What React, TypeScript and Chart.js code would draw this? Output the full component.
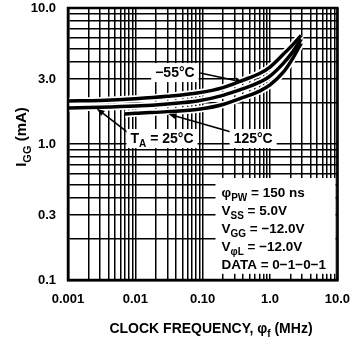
import React, { useEffect, useRef } from "react";
import { Chart, registerables } from "chart.js";

Chart.register(...registerables);

// ---- data ----
const freqM55 = [0.001, 0.003, 0.01, 0.03, 0.087, 0.2, 0.4, 0.7, 1.0, 1.6, 2.2, 2.9];
const iggM55 = [2.07, 2.09, 2.15, 2.24, 2.38, 2.6, 2.95, 3.3, 3.68, 4.6, 5.4, 6.3];
const freq25 = [0.001, 0.003, 0.01, 0.03, 0.087, 0.2, 0.4, 0.7, 1.0, 1.6, 2.2, 2.9];
const igg25 = [1.84, 1.86, 1.9, 1.97, 2.08, 2.28, 2.55, 2.85, 3.16, 3.95, 4.8, 5.9];
const freq125 = [0.007, 0.01, 0.03, 0.087, 0.2, 0.4, 0.7, 1.0, 1.6, 2.2, 2.9];
const igg125 = [1.66, 1.68, 1.73, 1.8, 1.95, 2.2, 2.45, 2.72, 3.4, 4.3, 5.5];

const xTickValues = [0.001, 0.01, 0.1, 1, 10];
const xTickLabels = ["0.001", "0.01", "0.10", "1.0", "10.0"];
const yTickValues = [0.1, 0.3, 1, 3, 10];
const yTickLabels = ["0.1", "0.3", "1.0", "3.0", "10.0"];
const xDecades = [0.001, 0.01, 0.1, 1];
const yDecades = [0.1, 1];
const gridMultipliers = [1, 2, 3, 4, 5, 6, 7, 8, 9];

const paramLines: [string, boolean][][] = [
  [["φ", false], ["PW", true], [" = 150 ns", false]],
  [["V", false], ["SS", true], [" = 5.0V", false]],
  [["V", false], ["GG", true], [" = −12.0V", false]],
  [["V", false], ["φL", true], [" = −12.0V", false]],
  [["DATA = 0−1−0−1", false]],
];

// annotation positions in data space: label centre, arrow start, arrow tip
const labelM55 = { text: [["−55°C", false]] as [string, boolean][], at: [0.0387, 3.38], from: [0.092, 3.33], to: [0.4, 2.85] };
const label25 = { text: [["T", false], ["A", true], [" = 25°C", false]] as [string, boolean][], at: [0.0249, 1.106], from: [0.0076, 1.225], to: [0.00267, 1.82] };
const label125 = { text: [["125°C", false]] as [string, boolean][], at: [0.562, 1.106], from: [0.265, 1.225], to: [0.031, 1.66] };
const paramBox = { x0: 0.155, x1: 9.36, y0: 0.562, y1: 0.111 };

const FONT = "'Liberation Sans', Arial, Helvetica, sans-serif";

function gridValues(decades: number[], max: number) {
  const out: number[] = [];
  decades.forEach((d) => gridMultipliers.forEach((m) => out.push(parseFloat((d * m).toPrecision(3)))));
  out.push(max);
  return out;
}

function richWidth(ctx: CanvasRenderingContext2D, segs: [string, boolean][], size: number) {
  let w = 0;
  for (const [t, sub] of segs) {
    ctx.font = `bold ${sub ? Math.round(size * 0.72) : size}px ${FONT}`;
    w += ctx.measureText(t).width;
  }
  return w;
}

function drawRich(
  ctx: CanvasRenderingContext2D,
  segs: [string, boolean][],
  x: number,
  y: number,
  align: "left" | "center",
  size: number
) {
  const w = richWidth(ctx, segs, size);
  let cx = align === "center" ? x - w / 2 : x;
  ctx.textAlign = "left";
  ctx.textBaseline = "alphabetic";
  ctx.fillStyle = "#000";
  for (const [t, sub] of segs) {
    ctx.font = `bold ${sub ? Math.round(size * 0.72) : size}px ${FONT}`;
    ctx.fillText(t, cx, sub ? y + size * 0.3 : y);
    cx += ctx.measureText(t).width;
  }
  return w;
}

function arrow(ctx: CanvasRenderingContext2D, x1: number, y1: number, x2: number, y2: number) {
  const ang = Math.atan2(y2 - y1, x2 - x1);
  const len = 8;
  const hw = 3;
  const bx = x2 - len * Math.cos(ang);
  const by = y2 - len * Math.sin(ang);
  ctx.strokeStyle = "#000";
  ctx.lineWidth = 1.6;
  ctx.beginPath();
  ctx.moveTo(x1, y1);
  ctx.lineTo(bx, by);
  ctx.stroke();
  ctx.fillStyle = "#000";
  ctx.beginPath();
  ctx.moveTo(x2, y2);
  ctx.lineTo(bx + hw * Math.sin(ang), by - hw * Math.cos(ang));
  ctx.lineTo(bx - hw * Math.sin(ang), by + hw * Math.cos(ang));
  ctx.closePath();
  ctx.fill();
}

const overlayPlugin = {
  id: "overlay",
  afterDatasetsDraw(chart: any) {
    const ctx: CanvasRenderingContext2D = chart.ctx;
    const xs = chart.scales.x;
    const ys = chart.scales.y;
    const px = (v: number) => xs.getPixelForValue(v);
    const py = (v: number) => ys.getPixelForValue(v);
    ctx.save();

    // parameter box
    const bx0 = px(paramBox.x0), bx1 = px(paramBox.x1);
    const by0 = py(paramBox.y0), by1 = py(paramBox.y1);
    ctx.fillStyle = "#fff";
    ctx.fillRect(bx0, by0, bx1 - bx0, by1 - by0);
    const lineGap = (by1 - by0) / 5.3;
    paramLines.forEach((segs, i) => {
      drawRich(ctx, segs, bx0 + 6, by0 + 19 + i * lineGap, "left", 13.5);
    });

    // labels with arrows
    [labelM55, label25, label125].forEach((lab) => {
      arrow(ctx, px(lab.from[0]), py(lab.from[1]), px(lab.to[0]), py(lab.to[1]));
      const cx = px(lab.at[0]);
      const cy = py(lab.at[1]);
      const w = richWidth(ctx, lab.text, 14);
      ctx.fillStyle = "#fff";
      ctx.fillRect(cx - w / 2 - 4, cy - 9, w + 8, 19);
      drawRich(ctx, lab.text, cx, cy + 5, "center", 14);
    });

    // frame
    const a = chart.chartArea;
    ctx.strokeStyle = "#000";
    ctx.lineWidth = 2.5;
    ctx.strokeRect(a.left, a.top, a.right - a.left, a.bottom - a.top);

    // axis titles
    drawRich(ctx, [["CLOCK FREQUENCY, φ", false], ["f", true], [" (MHz)", false]], 211, 333, "center", 14);
    ctx.translate(26, 137);
    ctx.rotate(-Math.PI / 2);
    drawRich(ctx, [["I", false], ["GG", true], [" (mA)", false]], 0, 0, "center", 15);
    ctx.restore();
  },
};

function matchLabel(values: number[], labels: string[], v: number) {
  for (let i = 0; i < values.length; i++) {
    if (Math.abs(Math.log10(values[i]) - Math.log10(v)) < 1e-6) return labels[i];
  }
  return "";
}

export default function App() {
  const ref = useRef<HTMLCanvasElement | null>(null);
  useEffect(() => {
    document.body.style.margin = "0";
    const canvas = ref.current!;
    const mk = (xs: number[], ys: number[]) => xs.map((x, i) => ({ x, y: ys[i] }));
    const series = [
      { xs: freqM55, ys: iggM55 },
      { xs: freq25, ys: igg25 },
      { xs: freq125, ys: igg125 },
    ];
    const datasets: any[] = [];
    series.forEach((s) => {
      datasets.push({
        data: mk(s.xs, s.ys),
        showLine: true,
        borderColor: "#fff",
        borderWidth: 7,
        pointRadius: 0,
        cubicInterpolationMode: "monotone",
        order: 2,
      });
    });
    series.forEach((s) => {
      datasets.push({
        data: mk(s.xs, s.ys),
        showLine: true,
        borderColor: "#000",
        borderWidth: 3.5,
        pointRadius: 0,
        cubicInterpolationMode: "monotone",
        order: 1,
      });
    });
    const chart = new Chart(canvas, {
      type: "scatter",
      data: { datasets },
      options: {
        animation: false,
        responsive: false,
        devicePixelRatio: 1,
        layout: { padding: { top: 0, right: 22, left: 0, bottom: 0 } },
        plugins: { legend: { display: false }, tooltip: { enabled: false } },
        scales: {
          x: {
            type: "logarithmic",
            min: 0.001,
            max: 10,
            afterBuildTicks: (s: any) => {
              s.ticks = gridValues(xDecades, 10).map((v) => ({ value: v }));
            },
            afterFit: (s: any) => {
              s.height = 65;
            },
            ticks: {
              autoSkip: false,
              maxRotation: 0,
              padding: 12,
              color: "#000",
              font: { family: FONT, weight: "bold", size: 13 },
              callback: (v: any) => matchLabel(xTickValues, xTickLabels, Number(v)),
            },
            grid: { color: "#000", lineWidth: 1.5, drawTicks: false },
            border: { display: true, color: "#000", width: 2.5 },
          },
          y: {
            type: "logarithmic",
            min: 0.1,
            max: 10,
            afterBuildTicks: (s: any) => {
              s.ticks = gridValues(yDecades, 10).map((v) => ({ value: v }));
            },
            afterFit: (s: any) => {
              s.width = 68;
              s.paddingTop = 8;
            },
            ticks: {
              autoSkip: false,
              padding: 12,
              color: "#000",
              font: { family: FONT, weight: "bold", size: 13 },
              callback: (v: any) => matchLabel(yTickValues, yTickLabels, Number(v)),
            },
            grid: { color: "#000", lineWidth: 1.5, drawTicks: false },
            border: { display: true, color: "#000", width: 2.5 },
          },
        },
      },
      plugins: [overlayPlugin],
    } as any);
    return () => chart.destroy();
  }, []);
  return (
    <div style={{ width: 362, height: 345 }}>
      <canvas ref={ref} width={362} height={345} style={{ display: "block" }} />
    </div>
  );
}
